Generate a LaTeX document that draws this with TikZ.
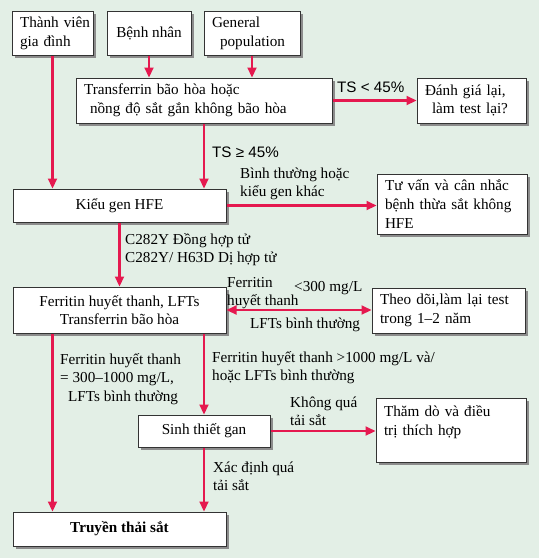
\documentclass[tikz,border=0pt]{standalone}
\usepackage{fontspec}
\setmainfont{Liberation Serif}
\setsansfont{Liberation Sans}
\usetikzlibrary{shadows,arrows.meta}
\definecolor{bg}{HTML}{E3EFE6}
\definecolor{crim}{HTML}{E5194F}
\tikzset{
  box/.style={draw=black!80, line width=1pt, fill=white,
    drop shadow={shadow xshift=3pt, shadow yshift=-3pt, fill=black!45, opacity=1},
    inner sep=0pt, align=center},
  cbox/.style={box, minimum width=#1},
  lbox/.style={box, align=left, inner xsep=8pt, text width=#1-16pt},
  arr/.style={draw=crim, line width=2.2pt, -{Triangle[length=10pt,width=9pt]}},
  darr/.style={draw=crim, line width=2.2pt, {Triangle[length=10pt,width=9pt]}-{Triangle[length=10pt,width=9pt]}},
  lbl/.style={inner sep=0pt, anchor=base west, align=left},
}
\begin{document}
\begin{tikzpicture}[x=1pt,y=-1pt,font=\fontsize{15.2}{18.7}\selectfont]
\fill[bg] (0,0) rectangle (539,558);
\useasboundingbox (0,0) rectangle (539,558);
% boxes
\node[lbox=81pt, minimum height=44pt] (tv) at (52.5,33) {Thành~viên\\gia đình};
\node[cbox=84pt, minimum height=44pt] (bn) at (149,33) {Bệnh nhân};
\node[lbox=96pt, minimum height=44pt] (gp) at (252,33) {General\\\hspace*{8pt}population};
\node[lbox=256pt, minimum height=45pt] (tf) at (204,100.5) {Transferrin bão hòa hoặc\\\hspace*{6pt}nồng độ sắt gắn không bão hòa};
\node[lbox=109pt, minimum height=45pt] (dg) at (471.5,100.5) {Đánh giá lại,\\\hspace*{7pt}làm test lại?};
\node[cbox=213pt, minimum height=33pt] (kg) at (119.5,205.5) {Kiểu gen HFE};
\node[lbox=150pt, minimum height=60pt] (tva) at (452,204) {Tư vấn và cân nhắc\\bệnh thừa sắt không\\HFE};
\node[cbox=213pt, minimum height=46pt] (fr) at (119.5,310) {Ferritin huyết thanh, LFTs\\Transferrin bão hòa};
\node[lbox=153pt, minimum height=45pt] (td) at (448.5,310.5) {Theo dõi,làm lại test\\trong 1–2 năm};
\node[cbox=132pt, minimum height=32pt] (st) at (204,431) {Sinh thiết gan};
\node[lbox=150pt, minimum height=64pt] (tdo) at (451,430) {Thăm dò và điều\\trị thích hợp\\\mbox{}};
\node[cbox=213pt, minimum height=34pt] (tr) at (119.5,529) {\textbf{Truyền thải sắt}};
% connectors
\draw[arr] (tv.south) -- (tv.south |- kg.north);
\draw[arr] (bn.south) -- (bn.south |- tf.north);
\draw[arr] (gp.south) -- (gp.south |- tf.north);
\draw[arr] (tf.south) -- (tf.south |- kg.north);
\draw[arr] (tf.east) -- (tf.east -| dg.west);
\draw[arr] (kg.east) -- (kg.east -| tva.west);
\draw[arr] (kg.south) -- (kg.south |- fr.north);
\draw[darr] (fr.east) -- (fr.east -| td.west);
\draw[arr] (tv.south |- fr.south) -- (tv.south |- tr.north);
\draw[arr] (st.north |- fr.south) -- (st.north);
\draw[arr] (st.east) -- (st.east -| tdo.west);
\draw[arr] (st.south) -- (st.south |- tr.north);
% labels (base = baseline of last line)
\node[lbl, font=\sffamily\fontsize{15.2}{18.7}\selectfont] (l1) at (337,92) {TS < 45\%};
\node[lbl, font=\sffamily\fontsize{15.2}{18.7}\selectfont] (l2) at (212,157) {TS ≥ 45\%};
\node[lbl] (l3) at (240,196.7) {Bình thường hoặc\\kiểu gen khác};
\node[lbl] (l4) at (125,262.7) {C282Y Đồng hợp tử\\C282Y/ H63D Dị hợp tử};
\node[lbl] (l5) at (227,305.7) {Ferritin\\huyết thanh};
\node[lbl] (l6) at (294,291) {<300 mg/L};
\node[lbl] (l7) at (250,328) {LFTs bình thường};
\node[lbl] (l8) at (60,401.4) {Ferritin huyết thanh\\= 300–1000 mg/L,\\\hspace*{8pt}LFTs bình thường};
\node[lbl] (l9) at (212,380.7) {Ferritin huyết thanh >1000 mg/L và/\\hoặc LFTs bình thường};
\node[lbl] (l10) at (290,425.7) {Không quá\\tải sắt};
\node[lbl] (l11) at (213,490.7) {Xác định quá\\tải sắt};
\end{tikzpicture}
\end{document}
